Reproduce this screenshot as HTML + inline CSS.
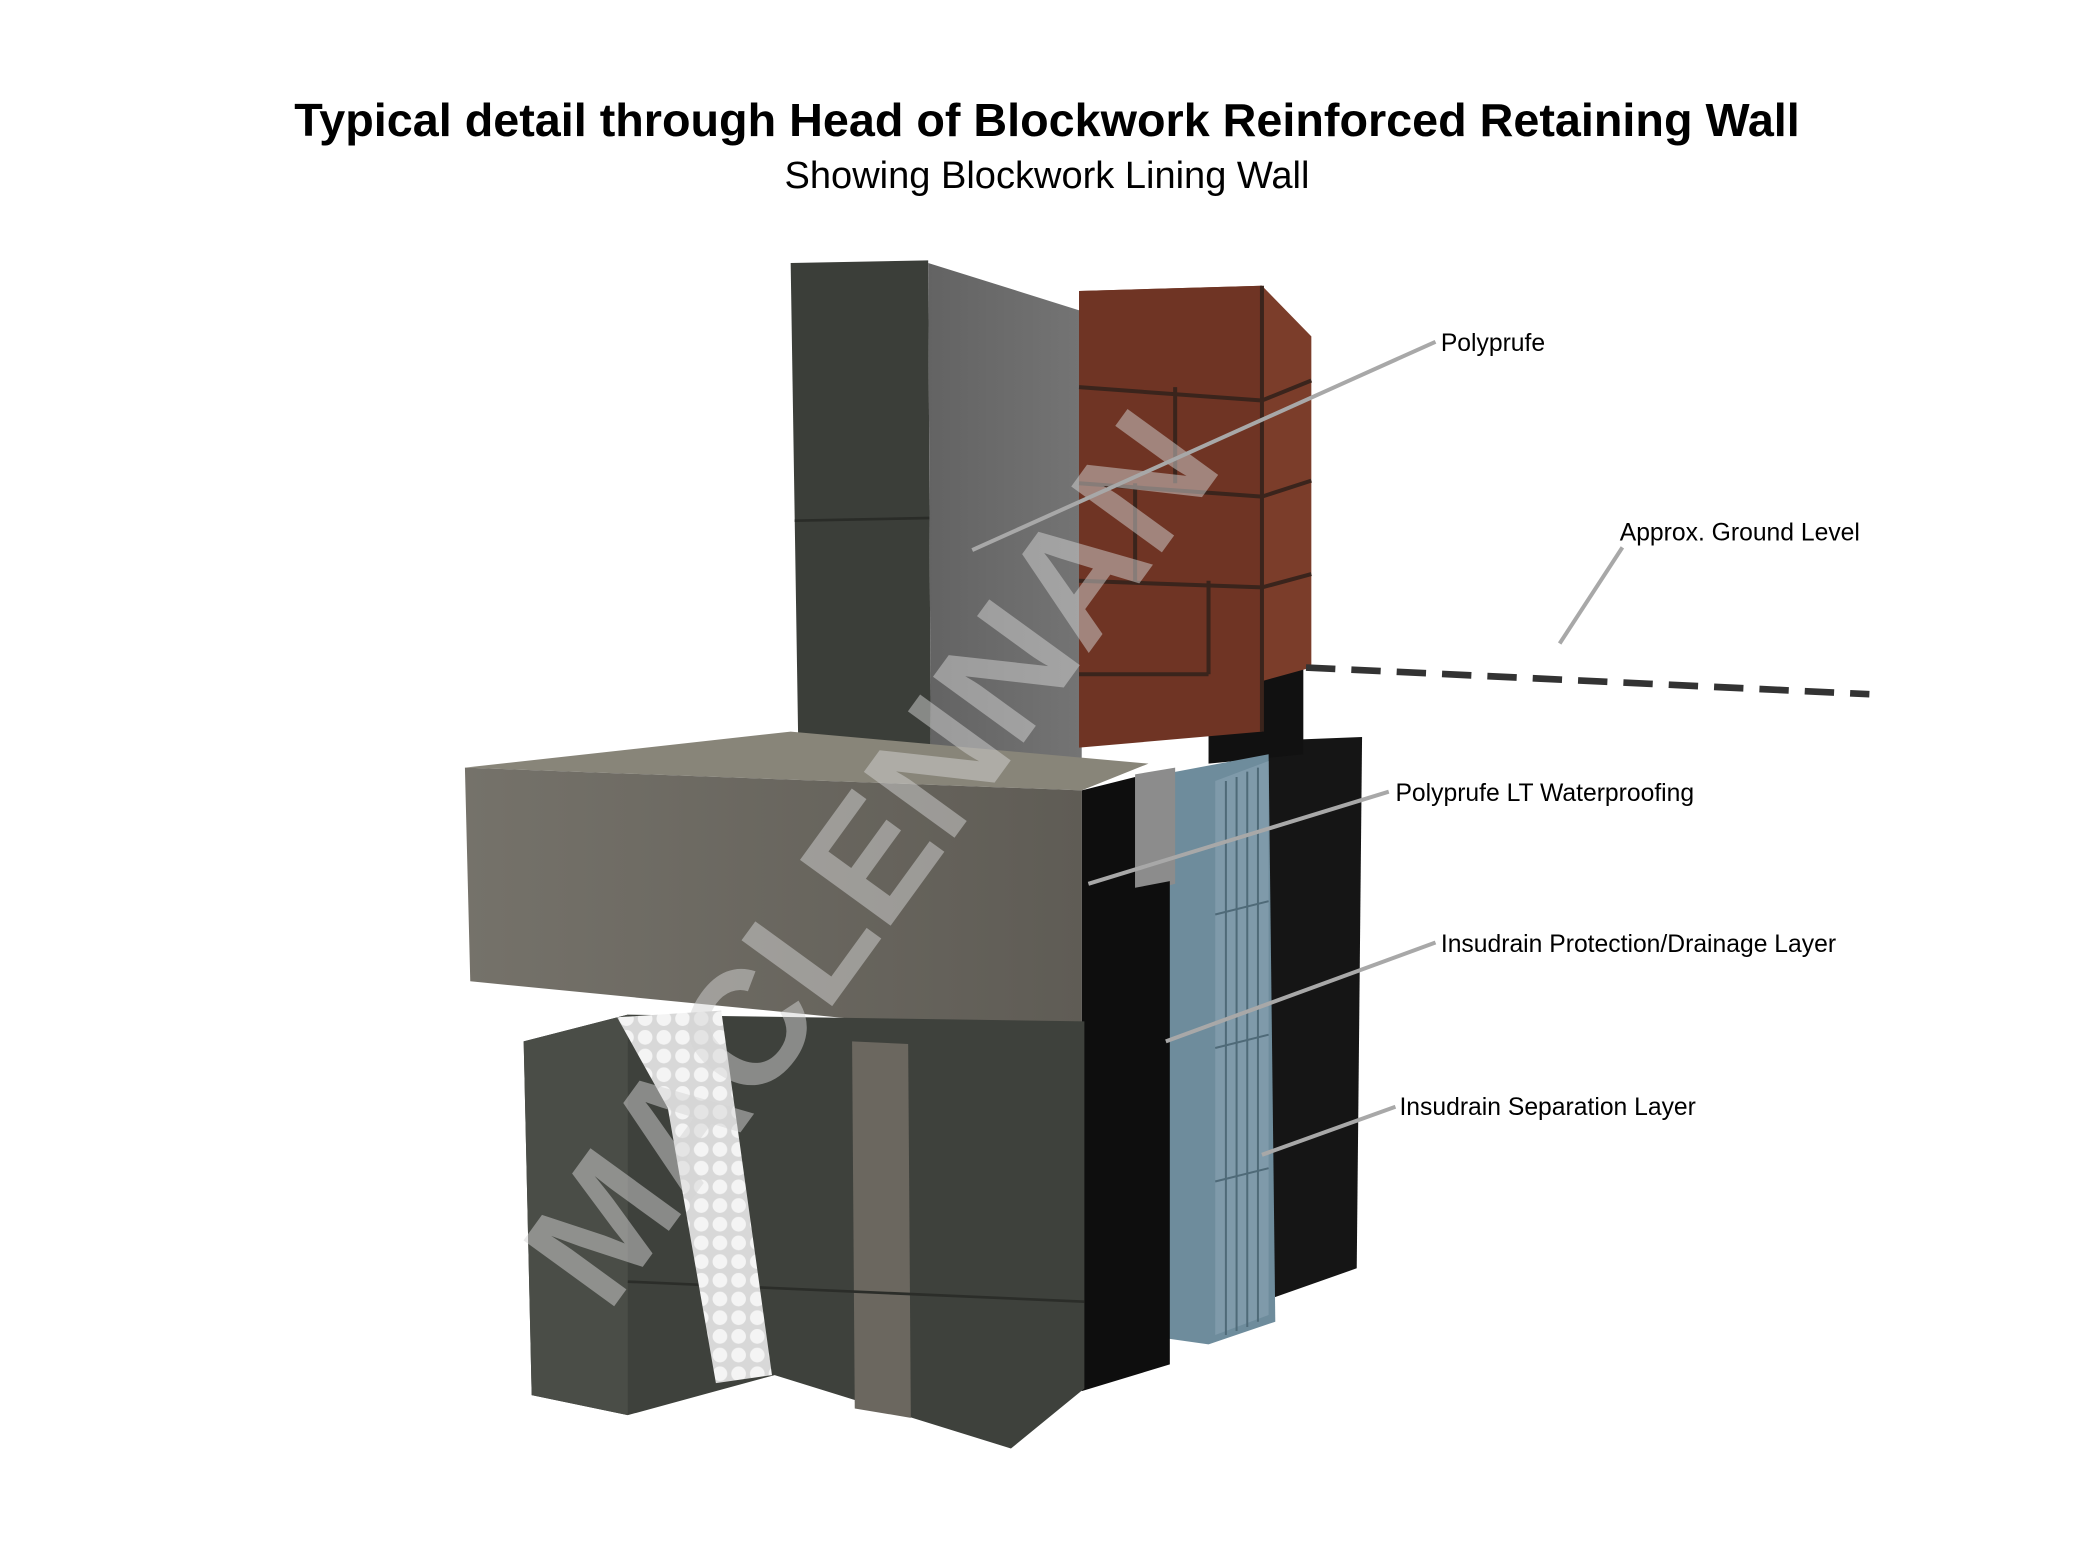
<!DOCTYPE html>
<html><head><meta charset="utf-8"><style>
html,body{margin:0;padding:0;background:#fff;width:2094px;height:1554px;overflow:hidden}
svg{display:block}
</style></head><body>
<svg width="2094" height="1554" viewBox="0 0 1568 1164" xmlns="http://www.w3.org/2000/svg">
<defs>
<pattern id="dots" width="14" height="14" patternUnits="userSpaceOnUse">
<rect width="14" height="14" fill="#d8d8d8"/>
<circle cx="7" cy="7" r="5.5" fill="#f4f4f4"/>
</pattern>
<linearGradient id="sheet" x1="0" x2="1"><stop offset="0" stop-color="#636363"/><stop offset="1" stop-color="#747474"/></linearGradient>
<linearGradient id="slab" x1="0" x2="1"><stop offset="0" stop-color="#75726a"/><stop offset="1" stop-color="#5f5c55"/></linearGradient>
</defs>
<rect width="1568" height="1164" fill="#fff"/>
<text x="784" y="102" text-anchor="middle" font-family="Liberation Sans, sans-serif" font-weight="bold" font-size="35" fill="#000">Typical detail through Head of Blockwork Reinforced Retaining Wall</text>
<text x="784" y="141" text-anchor="middle" font-family="Liberation Sans, sans-serif" font-size="28.5" fill="#000">Showing Blockwork Lining Wall</text>

<polygon points="945,555 1020,552 1016,950 945,975" fill="#151515"/>
<polygon points="905,502 976,498 976,565 905,572" fill="#111"/>
<polygon points="870,580 950,565 955,990 905,1007 870,1002" fill="#6e8c9c"/>
<polygon points="910,585 950,570 950,985 910,1000" fill="#7f9aaa"/>
<g stroke="#4f6a78" stroke-width="1.5">
<line x1="918" y1="585" x2="918" y2="1000"/><line x1="926" y1="582" x2="926" y2="997"/><line x1="934" y1="578" x2="934" y2="994"/><line x1="942" y1="575" x2="942" y2="990"/>
<line x1="910" y1="685" x2="950" y2="675"/><line x1="910" y1="785" x2="950" y2="775"/><line x1="910" y1="885" x2="950" y2="875"/>
</g>
<polygon points="850,580 880,575 880,662 850,670" fill="#8c8c8c"/>
<polygon points="810,592 850,582 850,665 876,660 876,1022 810,1042" fill="#0e0e0e"/>

<polygon points="592,197 695,195 697,578 598,578" fill="#3b3e39"/>
<line x1="595" y1="390" x2="696" y2="388" stroke="#2a2c28" stroke-width="2"/>
<polygon points="695,197 810,233 810,575 697,575" fill="url(#sheet)"/>
<polygon points="808,218 945,214 982,252 982,500 808,548 808,218" fill="#7b3d2a"/>
<polygon points="808,218 945,214 945,548 808,560" fill="#6f3424"/>
<g stroke="#3a241c" stroke-width="3" fill="none">
<path d="M808,290 L945,300 L982,285"/><path d="M808,362 L945,372 L982,360"/><path d="M808,435 L945,440 L982,430"/><path d="M808,505 L905,505"/>
<path d="M945,214 L945,548"/><path d="M880,290 L880,362"/><path d="M850,362 L850,435"/><path d="M905,435 L905,505"/>
</g>
<polygon points="348,575 592,548 860,572 810,592" fill="#888579"/>
<polygon points="348,575 810,592 810,780 352,735" fill="url(#slab)"/>
<polygon points="392,780 470,760 812,765 812,1040 757,1085 580,1030 470,1060 398,1045" fill="#3e413c"/>
<polygon points="392,780 470,760 470,1060 398,1045" fill="#4a4d47"/>
<polygon points="638,780 680,782 682,1062 640,1055" fill="#6b675f"/>
<line x1="470" y1="960" x2="812" y2="975" stroke="#2b2d29" stroke-width="2"/>
<polygon points="462,762 540,757 578,1030 536,1036 500,830" fill="url(#dots)"/>

<line x1="978" y1="500" x2="1400" y2="520" stroke="#333" stroke-width="5" stroke-dasharray="22,12"/>

<text transform="translate(455,985) rotate(-54)" font-family="Liberation Sans, sans-serif" font-weight="bold" font-size="122" fill="#d4d4d4" fill-opacity="0.5">MACLENNAN</text>

<g stroke="#a8a8a8" stroke-width="3">
<line x1="728" y1="412" x2="1075" y2="256"/>
<line x1="1168" y1="482" x2="1215" y2="410"/>
<line x1="815" y1="662" x2="1040" y2="593"/>
<line x1="873" y1="780" x2="1075" y2="706"/>
<line x1="945" y1="865" x2="1045" y2="829"/>
</g>
<g font-family="Liberation Sans, sans-serif" font-size="18.5" fill="#000">
<text x="1079" y="263">Polyprufe</text>
<text x="1213" y="405">Approx. Ground Level</text>
<text x="1045" y="600">Polyprufe LT Waterproofing</text>
<text x="1079" y="713">Insudrain Protection/Drainage Layer</text>
<text x="1048" y="835">Insudrain Separation Layer</text>
</g>
</svg>
</body></html>
